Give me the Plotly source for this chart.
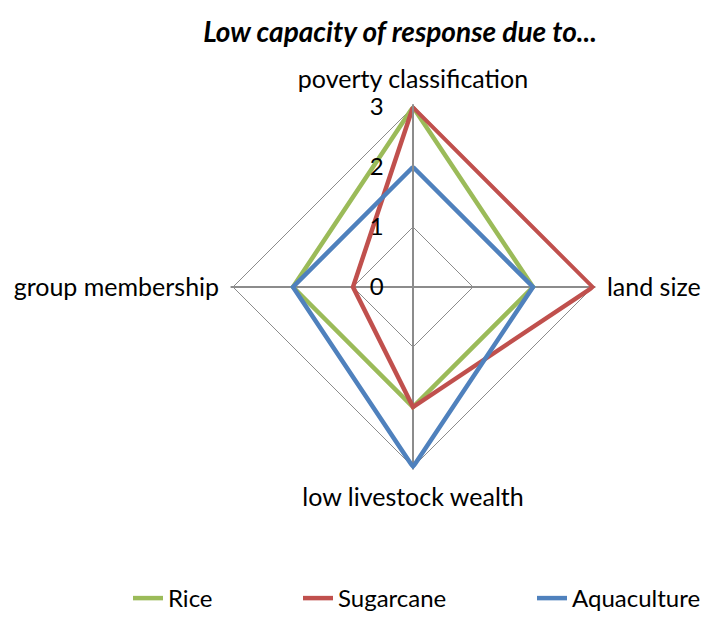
import plotly.graph_objects as go

# Radar categories (clockwise from top) and scores for each farming system
categories = ["poverty classification", "land size", "low livestock wealth", "group membership"]
rice = [3, 2, 2, 2]
sugarcane = [3, 3, 2, 1]
aquaculture = [2, 2, 3, 2]

radial_ticks = [0, 1, 2, 3]
r_max = 3.04  # small headroom so lines on the outer ring are not clipped

series = [
    ("Rice", rice, "#9BBB59", "legend2"),
    ("Sugarcane", sugarcane, "#C0504D", "legend3"),
    ("Aquaculture", aquaculture, "#4F81BD", "legend4"),
]

FONT = "Lato"
GRID = "#8C8C8C"

fig = go.Figure()
for name, vals, color, leg in series:
    fig.add_trace(go.Scatterpolar(
        r=vals + vals[:1],
        theta=categories + categories[:1],
        mode="lines",
        name=name,
        line=dict(color=color, width=4.5),
        cliponaxis=False,
        legend=leg,
    ))

legend_common = dict(
    orientation="h",
    yanchor="bottom",
    y=0,
    xanchor="left",
    font=dict(family=FONT, size=24, color="#000000"),
    bgcolor="rgba(0,0,0,0)",
    itemwidth=30,
)

# polar domain: centre at (413, 287) px, 180 px per 3 units
cx, cy = 413, 287
rad = 180 * r_max / 3

fig.update_layout(
    width=718,
    height=621,
    margin=dict(l=0, r=0, t=0, b=0),
    paper_bgcolor="white",
    plot_bgcolor="white",
    font=dict(family=FONT, size=24, color="#000000"),
    title=dict(
        text="<b><i>Low capacity of response due to...</i></b>",
        x=400 / 718,
        xanchor="center",
        y=1 - 32 / 621,
        yanchor="middle",
        font=dict(family=FONT, size=28, color="#000000"),
    ),
    polar=dict(
        domain=dict(
            x=[(cx - rad) / 718, (cx + rad) / 718],
            y=[1 - (cy + rad) / 621, 1 - (cy - rad) / 621],
        ),
        bgcolor="white",
        gridshape="linear",
        radialaxis=dict(
            range=[0, r_max],
            tickvals=radial_ticks,
            ticktext=[str(t) for t in radial_ticks],
            angle=90,
            tickangle=90,
            side="counterclockwise",
            showline=True,
            linecolor=GRID,
            linewidth=2,
            gridcolor=GRID,
            gridwidth=1.2,
            ticks="outside",
            ticklen=20,
            tickcolor="rgba(0,0,0,0)",
            tickfont=dict(family=FONT, size=24, color="#000000"),
        ),
        angularaxis=dict(
            categoryarray=categories,
            direction="clockwise",
            rotation=90,
            showline=False,
            gridcolor=GRID,
            gridwidth=2,
            ticks="outside",
            ticklen=6,
            tickcolor="rgba(0,0,0,0)",
            tickfont=dict(family=FONT, size=25, color="#000000"),
        ),
    ),
    showlegend=True,
    legend=dict(visible=False),
    legend2=dict(legend_common, x=128 / 718),
    legend3=dict(legend_common, x=298 / 718),
    legend4=dict(legend_common, x=532 / 718),
)

fig.write_html("out.html")
